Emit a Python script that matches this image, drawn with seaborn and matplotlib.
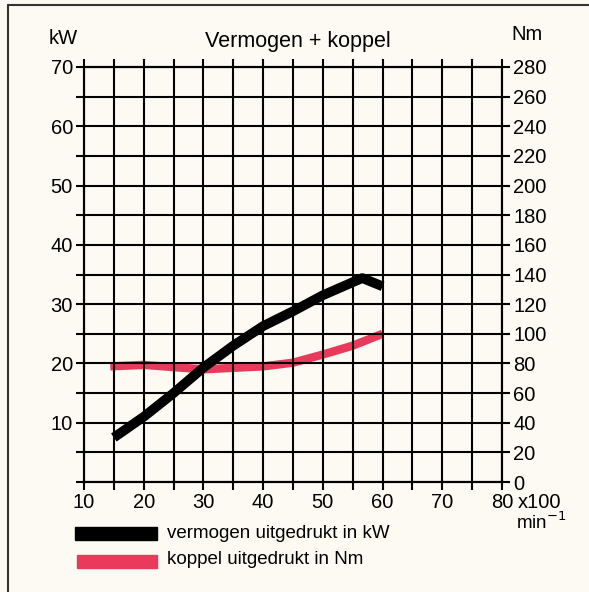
import matplotlib
matplotlib.use("Agg")
import matplotlib.pyplot as plt
import numpy as np
import pandas as pd
import seaborn as sns
from matplotlib.patches import Rectangle
from matplotlib.lines import Line2D

# power curve (kW) against engine speed (x100 min^-1)
power_rpm = [15, 20, 25, 30, 35, 40, 45, 50, 55, 56.6, 60]
power_kw = [7.5, 11.0, 15.0, 19.3, 23.0, 26.3, 28.8, 31.5, 33.7, 34.4, 33.0]

# torque curve (Nm)
torque_rpm = [14.4, 20, 25, 30, 35, 40, 45, 50, 55, 60]
torque_nm = [78, 79, 77.5, 76, 77, 78, 80.5, 86, 92, 100]

x_ticks = [10, 20, 30, 40, 50, 60, 70, 80]
kw_ticks = [10, 20, 30, 40, 50, 60, 70]
nm_ticks = list(range(0, 281, 20))

BG = "#fcfaf2"
RED = "#ea3a5c"
FONT = "Liberation Sans"
FS = 14.5

sns.set_theme(style="white")
plt.rcParams["font.family"] = [FONT, "DejaVu Sans"]
plt.rcParams["text.color"] = "black"

fig = plt.figure(figsize=(5.89, 5.92), dpi=100, facecolor=BG)
ax = fig.add_axes([84 / 589, 1 - 482 / 592, 418 / 589, 415 / 592])
ax.set_facecolor(BG)
ax2 = ax.twinx()

df_p = pd.DataFrame({"rpm": power_rpm, "kW": power_kw})
df_t = pd.DataFrame({"rpm": torque_rpm, "Nm": torque_nm})

ax.set_xlim(10, 80)
ax.set_ylim(0, 70)
ax2.set_ylim(0, 280)

# grid every 5 units on both axes
ax.set_xticks(np.arange(10, 81, 5))
ax.set_yticks(np.arange(0, 71, 5))
ax.grid(True, color="black", linewidth=1.5)
ax.set_xticklabels([str(v) if v in x_ticks else "" for v in np.arange(10, 81, 5)])
ax.set_yticklabels([str(v) if v in kw_ticks else "" for v in np.arange(0, 71, 5)])
ax2.set_yticks(nm_ticks)
ax2.set_yticklabels([str(v) for v in nm_ticks])

for a in (ax, ax2):
    for s in a.spines.values():
        s.set_color("black")
        s.set_linewidth(1.5)
ax.tick_params(axis="both", direction="out", length=6, width=1.5, color="black",
               labelsize=FS, labelcolor="black", pad=2, top=True, bottom=True, left=True)
ax.tick_params(axis="x", pad=2)
ax2.tick_params(axis="y", direction="out", length=6, width=1.5, color="black",
                labelsize=FS, labelcolor="black", pad=2)

sns.lineplot(data=df_t, x="rpm", y="Nm", ax=ax2, color=RED, linewidth=6,
             solid_capstyle="butt", solid_joinstyle="round", legend=False)
sns.lineplot(data=df_p, x="rpm", y="kW", ax=ax, color="black", linewidth=7,
             solid_capstyle="butt", solid_joinstyle="round", legend=False)
ax.set_zorder(ax2.get_zorder() + 1)
ax.patch.set_visible(False)
ax2.patch.set_facecolor(BG)
ax2.patch.set_visible(True)

for a in (ax, ax2):
    a.set_xlabel("")
    a.set_ylabel("")

fig.text(63 / 589, 1 - 38 / 592, "kW", ha="center", va="center", fontsize=FS)
fig.text(527 / 589, 1 - 34 / 592, "Nm", ha="center", va="center", fontsize=FS)
fig.text(298 / 589, 1 - 41 / 592, "Vermogen + koppel", ha="center", va="center", fontsize=15.5)
fig.text(518 / 589, 1 - 503 / 592, "x100", ha="left", va="center", fontsize=FS)
fig.text(541 / 589, 1 - 522 / 592, r"min$^{-1}$", ha="center", va="center", fontsize=13.5)

# legend drawn by hand
fig.add_artist(Rectangle((75 / 589, 1 - 540 / 592), 82 / 589, 13 / 592,
                         transform=fig.transFigure, color="black"))
fig.add_artist(Rectangle((77 / 589, 1 - 568 / 592), 80 / 589, 13 / 592,
                         transform=fig.transFigure, color=RED))
fig.text(167 / 589, 1 - 533 / 592, "vermogen uitgedrukt in kW", ha="left", va="center", fontsize=13.5)
fig.text(167 / 589, 1 - 560 / 592, "koppel uitgedrukt in Nm", ha="left", va="center", fontsize=13.5)

# scan frame (top and left edges)
fig.add_artist(Line2D([8 / 589, 1], [1 - 5 / 592, 1 - 5 / 592], transform=fig.transFigure,
                      color="#333333", linewidth=1.5))
fig.add_artist(Line2D([8 / 589, 8 / 589], [0, 1 - 5 / 592], transform=fig.transFigure,
                      color="#333333", linewidth=1.5))

fig.savefig("out.png", dpi=100, facecolor=BG)
plt.close(fig)
